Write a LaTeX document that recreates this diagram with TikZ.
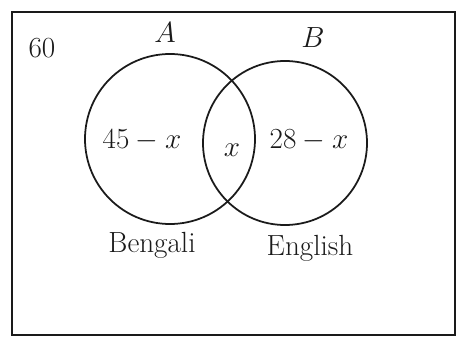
\documentclass[tikz,border=0pt]{standalone}
\usepackage{amsmath}
\usepackage{tikz}
\usetikzlibrary{positioning}
\definecolor{VennInk}{HTML}{1A1A1A}

\begin{document}
\begin{tikzpicture}[x=0.03cm,y=-0.03cm,
    setring/.style={draw=VennInk,line width=1.5pt,circle,inner sep=0pt},
    setlabel/.style={text=VennInk,font=\Huge}]
  \useasboundingbox (0,0) rectangle (461,349);
  \draw[VennInk,line width=1.5pt] (12,12) rectangle (455,335);
  \node[setlabel] (total) at (42,48) {$60$};
  % the two sets
  \node[setring,minimum size=170*0.03cm] (setA) at (170,139) {};
  \node[setring,minimum size=164*0.03cm] (setB) at (285,143) {};
  \node[setlabel] (nameA) at (165,33) {$A$};
  \node[setlabel] (nameB) at (313,38) {$B$};
  \node[setlabel] (onlyA) at (142,140) {$45-x$};
  \node[setlabel] (both) at (232,150) {$x$};
  \node[setlabel] (onlyB) at (309,140) {$28-x$};
  \node[setlabel] (bengali) at (152,245) {Bengali};
  \node[setlabel] (english) at (310,248) {English};
\end{tikzpicture}
\end{document}
